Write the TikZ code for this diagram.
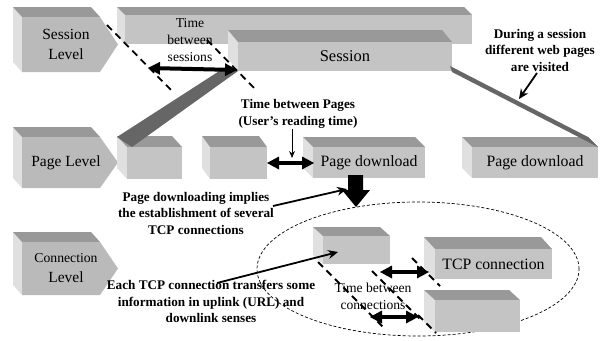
\documentclass[tikz,border=0pt]{standalone}
\usepackage{fontspec}
\setmainfont{Liberation Serif}
\usetikzlibrary{arrows.meta,shapes.geometric}
\definecolor{frontc}{gray}{0.77}
\definecolor{topc}{gray}{0.60}
\definecolor{leftc}{gray}{0.88}
\definecolor{lvlc}{gray}{0.73}
\definecolor{bandc}{gray}{0.40}
\tikzset{
 boxtext/.style={font=\fontsize{15.8}{18}\selectfont, inner sep=0pt, outer sep=0pt},
 lvltext/.style={font=\fontsize{15.5}{20}\selectfont, align=center, inner sep=0pt},
 note/.style={font=\fontsize{13.2}{16.5}\selectfont\bfseries, align=center, inner sep=0pt},
 smallnote/.style={font=\fontsize{13.6}{16.8}\selectfont, align=center, inner sep=0pt},
 dline/.style={line width=1.8pt, dash pattern=on 7pt off 5pt},
 dbl/.style={line width=4pt, {Triangle[length=12pt,width=13pt,line width=0pt]}-{Triangle[length=12pt,width=13pt,line width=0pt]}},
 callout/.style={line width=1.8pt, -{Stealth[length=10pt,width=9pt,line width=0pt]}},
 thincallout/.style={line width=1pt, -{Stealth[length=7pt,width=6pt,line width=0pt]}},
}
\newcommand\cubeat[8]{%
 \fill[leftc] ({#2-#6},{#3-#7}) -- (#2,#3) -- (#2,#5) -- ({#2-#6},{#5-#7}) -- cycle;
 \fill[topc] ({#2-#6},{#3-#7}) -- ({#4-#6},{#3-#7}) -- (#4,#3) -- (#2,#3) -- cycle;
 \node[fill=frontc, boxtext, minimum width={(#4-#2)*1pt}, minimum height={(#5-#3)*1pt}, anchor=north west] (#1) at (#2,#3) {#8};
}
\newcommand\levelat[4]{%
 \fill[leftc] (13,{#2-10}) -- (22,#2) -- (22,#3) -- (13,{#3-10}) -- cycle;
 \fill[topc] (13,{#2-10}) -- (91,{#2-10}) -- (100,#2) -- (22,#2) -- cycle;
 \fill[lvlc] (22,#2) -- (100,#2) -- (118,{(#2+#3)/2}) -- (100,#3) -- (22,#3) -- cycle;
 \node[lvltext] (#1) at (66,{(#2+#3)/2}) {#4};
}
\begin{document}
\begin{tikzpicture}[x=1pt,y=-1pt]
\useasboundingbox (0,0) rectangle (607,340);
% connection group
\node[ellipse, draw, line width=0.7pt, dash pattern=on 3pt off 2pt, minimum width=322pt, minimum height=134pt, inner sep=0pt] (grp) at (418,269) {};
% levels
\levelat{lvs}{17}{72}{Session\\Level}
\levelat{lvp}{137}{188}{Page Level}
\levelat{lvc}{242}{295}{\fontsize{13.7}{18}\selectfont Connection\\Level}
% sessions
\cubeat{sess1}{125}{15}{472}{44}{8}{8}{}
\cubeat{sess2}{238}{42}{452}{71}{10}{12}{\fontsize{16.5}{18}\selectfont Session}
% pages
\cubeat{pg1}{127}{147}{182}{179}{10}{11}{}
\cubeat{pg2}{210}{147}{267}{179}{8}{11}{}
\cubeat{pgd1}{313}{147}{425}{178}{10}{10}{Page download}
\cubeat{pgd2}{472}{147}{598}{178}{10}{10}{Page download}
% bands from session to pages
\fill[bandc] (224,68) -- (238,71) -- (132,147) -- (117,137) -- cycle;
\fill[bandc] (450,66) -- (452,72) -- (598,147) -- (588,137) -- cycle;
% connections
\cubeat{c1}{323}{236}{390}{264}{10}{9}{}
\cubeat{c2}{435}{249}{552}{279}{11}{12}{TCP connection}
\cubeat{c3}{435}{300}{520}{332}{11}{10}{}
% texts
\node[smallnote] (tbs) at (190,40) {Time\\between\\sessions};
\node[note] (tbp) at (298,114) {Time between Pages\\(User’s reading time)};
\node[note] (dur) at (540,50) {During a session\\different web pages\\are visited};
\node[note] (pdi) at (196,213) {Page downloading implies\\the establishment of several\\TCP connections};
\node[note] (etc) at (211,301.5) {Each TCP connection transfers some\\information in uplink (URL) and\\downlink senses};
\node[smallnote] (tbc) at (373,296.5) {Time between\\connections};
% dashed time markers
\coordinate (s1a) at (107,25); \coordinate (s1b) at (172,91);
\coordinate (s2a) at (207,40); \coordinate (s2b) at (256,90);
\draw[dline] (s1a) -- (s1b);
\draw[dline] (s2a) -- (s2b);
\coordinate (ca1) at (318,262); \coordinate (ca2) at (384,328);
\coordinate (cb1) at (372,271); \coordinate (cb2) at (422,321);
\coordinate (cc1) at (412,258); \coordinate (cc2) at (440,286);
\coordinate (cd1) at (418,315); \coordinate (cd2) at (436,333);
\draw[dline] (ca1) -- (ca2);
\draw[dline] (cb1) -- (cb2);
\draw[dline] (cc1) -- (cc2);
\draw[dline] (cd1) -- (cd2);
% double arrows
\coordinate (da1) at (148,68); \coordinate (da2) at (237,70);
\draw[dbl] (da1) -- (da2);
\coordinate (db1) at (267,163); \coordinate (db2) at (314,163);
\draw[dbl] (db1) -- (db2);
\coordinate (dc1) at (380,272); \coordinate (dc2) at (429,272);
\draw[dbl] (dc1) -- (dc2);
\coordinate (dd1) at (370,317); \coordinate (dd2) at (418,317);
\draw[dbl] (dd1) -- (dd2);
% callouts
\coordinate (durt) at (537,73); \coordinate (durh) at (519,99);
\draw[callout] (durt) -- (durh);
\coordinate (tbpt) at (292,129); \coordinate (tbph) at (292,158);
\draw[thincallout] (tbpt) -- (tbph);
\coordinate (pdit) at (273,206); \coordinate (pdih) at (347,189);
\draw[callout] (pdit) -- (pdih);
\coordinate (etct) at (217,283); \coordinate (etch) at (338,252);
\draw[callout] (etct) -- (etch);
% block arrow from page download to connections
\coordinate (blk) at (356,175);
\fill[black] (blk) ++(-8,0) -- ++(15,0) -- ++(0,15) -- ++(7,0) -- (356,207) -- (342,190) -- (348,190) -- cycle;
\end{tikzpicture}
\end{document}
